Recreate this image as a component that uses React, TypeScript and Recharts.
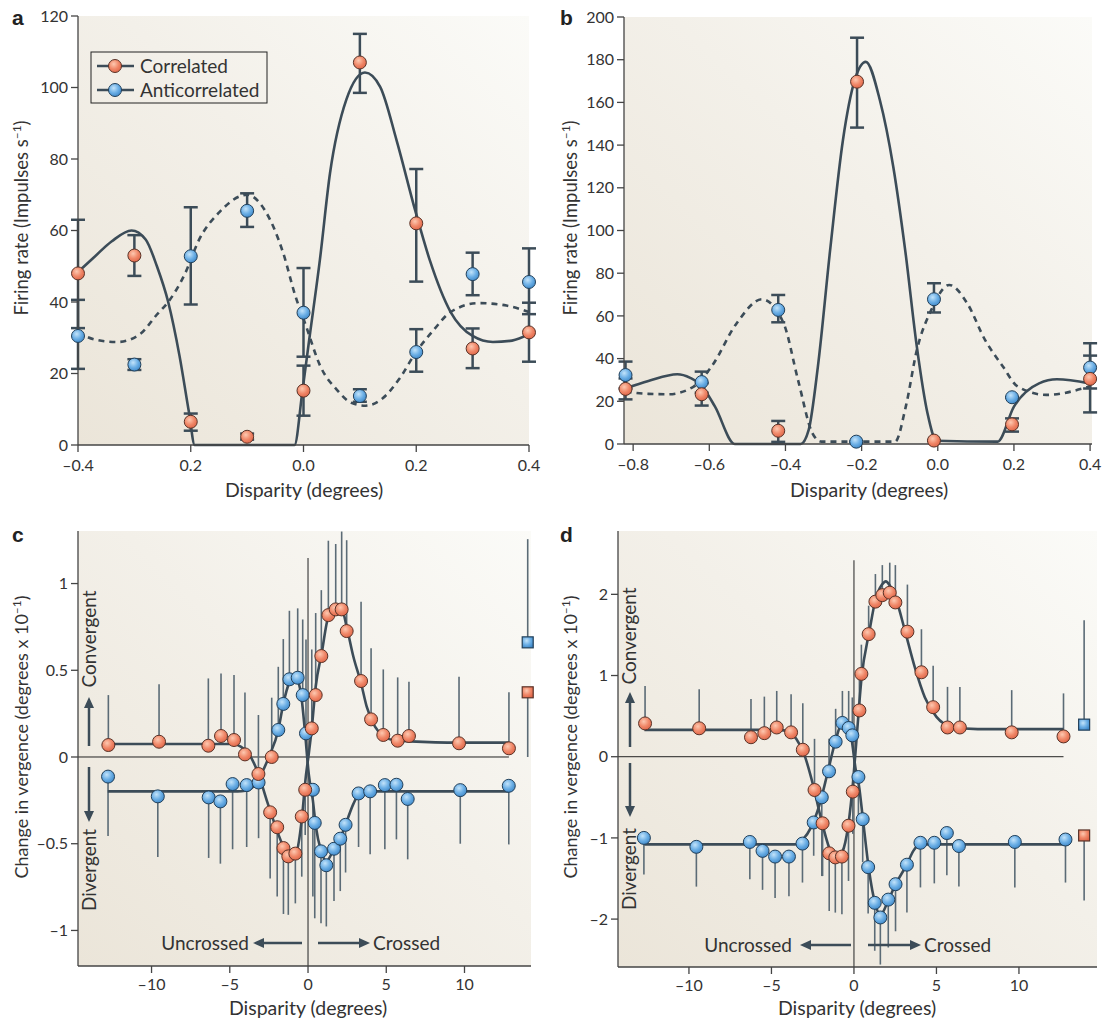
import React from "react";
import {
  ComposedChart,
  Line,
  Scatter,
  XAxis,
  YAxis,
  ErrorBar,
  ReferenceArea,
  ReferenceLine,
} from "recharts";

const FONT = "Lato, 'Open Sans', 'DejaVu Sans', sans-serif";
const INK = "#3c4c58";
const TEXT = "#333";
const AXIS = "#444";

// ---------- panel a ----------
const aXTicks = [-0.4, -0.2, 0, 0.2, 0.4];
const aXLabels = ["–0.4", "0.2", "0.0", "0.2", "0.4"];
const aYTicks = [0, 20, 40, 60, 80, 100, 120];
// [disparity, rate, low, high]
const aCorrelated = [
  [-0.4, 48, 32.7, 63],
  [-0.3, 53, 47.3, 58.7],
  [-0.2, 6.5, 4, 8.8],
  [-0.1, 2.3, 1.5, 3.2],
  [0.0, 15.2, 8.2, 22.2],
  [0.1, 107, 98.5, 115],
  [0.2, 62, 45.7, 77.2],
  [0.3, 27, 21.5, 32.6],
  [0.4, 31.5, 23.3, 39.8],
];
const aAnticorrelated = [
  [-0.4, 30.5, 21.3, 40.6],
  [-0.3, 22.5, 21, 24],
  [-0.2, 52.8, 39.3, 66.5],
  [-0.1, 65.5, 61, 70.4],
  [0.0, 37, 24.7, 49.5],
  [0.1, 13.7, 12.1, 15.6],
  [0.2, 26, 20.5, 32.4],
  [0.3, 47.8, 41.9, 53.8],
  [0.4, 45.6, 36.6, 55],
];
const aCorrFit = [
  [-0.4, 48.4], [-0.373, 52.3], [-0.34, 57], [-0.305, 60], [-0.28, 57.5],
  [-0.26, 50], [-0.24, 40], [-0.22, 25], [-0.203, 9], [-0.193, 0],
  [-0.016, 0], [-0.002, 15], [0.01, 29.3], [0.029, 51.7], [0.047, 76],
  [0.076, 96.6], [0.109, 104.2], [0.136, 100.2], [0.165, 85.3], [0.198, 65.7],
  [0.224, 51.7], [0.261, 37.2], [0.3, 30.5], [0.336, 28.8], [0.37, 29.2], [0.4, 31],
];
const aAntiFit = [
  [-0.4, 31.5], [-0.37, 29.5], [-0.33, 28.8], [-0.29, 31], [-0.26, 36.5],
  [-0.24, 40], [-0.21, 48], [-0.185, 57.5], [-0.15, 65], [-0.1, 70],
  [-0.07, 66], [-0.036, 53.7], [-0.015, 42], [0.004, 33.5], [0.03, 22],
  [0.06, 15.3], [0.085, 11.8], [0.11, 11], [0.14, 13], [0.17, 18.5],
  [0.198, 25.6], [0.23, 32], [0.261, 37.2], [0.311, 39.7], [0.36, 39], [0.4, 37.2],
];

// ---------- panel b ----------
const bXTicks = [-0.8, -0.6, -0.4, -0.2, 0, 0.2, 0.4];
const bXLabels = ["–0.8", "–0.6", "–0.4", "–0.2", "0.0", "0.2", "0.4"];
const bYTicks = [0, 20, 40, 60, 80, 100, 120, 140, 160, 180, 200];
const bCorrelated = [
  [-0.82, 25.8, 20.9, 30.7],
  [-0.62, 23.3, 18, 28.5],
  [-0.419, 6.2, 1, 10.8],
  [-0.212, 169.7, 148.2, 190.3],
  [-0.01, 1.6, 1.6, 1.6],
  [0.195, 9.2, 5.8, 12],
  [0.4, 30.5, 14.8, 41.4],
];
const bAnticorrelated = [
  [-0.82, 32.3, 26, 38.6],
  [-0.62, 29, 24, 33.9],
  [-0.419, 62.8, 57, 69.8],
  [-0.214, 1.1, 1.1, 1.1],
  [-0.01, 67.8, 61.6, 75.3],
  [0.195, 21.9, 21.9, 21.9],
  [0.4, 35.8, 26, 47.2],
];
const bCorrFit = [
  [-0.82, 26.1], [-0.76, 29.5], [-0.684, 32.7], [-0.65, 31], [-0.622, 27.7],
  [-0.585, 17.5], [-0.533, 0], [-0.36, 0], [-0.339, 6.6], [-0.315, 36],
  [-0.282, 92], [-0.249, 142.4], [-0.218, 170.5], [-0.189, 179], [-0.152, 161],
  [-0.117, 130], [-0.085, 90], [-0.055, 45.6], [-0.027, 14.4], [-0.003, 1.5],
  [0.157, 1.1], [0.2, 17.5], [0.266, 28.4], [0.313, 30.3], [0.398, 28.4],
];
const bAntiFit = [
  [-0.82, 24.5], [-0.76, 23.5], [-0.707, 23.3], [-0.641, 26.9], [-0.594, 36.3],
  [-0.528, 56.6], [-0.462, 67.8], [-0.405, 56.6], [-0.367, 30], [-0.329, 5],
  [-0.306, 1.1], [-0.112, 1.1], [-0.084, 17.5], [-0.055, 44], [-0.017, 62.8],
  [0.03, 74.5], [0.077, 66], [0.124, 48.8], [0.171, 36.3], [0.21, 26.9],
  [0.285, 23], [0.398, 26.9],
];

// ---------- panel c ----------
const cdXTicks = [-10, -5, 0, 5, 10];
const cdXLabels = ["–10", "–5", "0", "5", "10"];
const cYTicks = [-1, -0.5, 0, 0.5, 1];
const cYLabels = ["–1", "–0.5", "0", "0.5", "1"];
// [disparity, vergence, end of error line]
const cCorrelated = [
  [-12.76, 0.069, 0.357], [-9.52, 0.088, 0.419], [-6.37, 0.065, 0.453],
  [-5.56, 0.121, 0.482], [-4.73, 0.098, 0.473], [-4.03, 0.015, 0.372],
  [-3.17, -0.098, 0.242], [-2.42, -0.319, -0.7], [-2.32, 0.0, 0.342],
  [-1.97, -0.405, -0.805], [-1.57, -0.525, -0.905], [-1.26, -0.573, -0.91],
  [-0.81, -0.557, -0.844], [-0.4, -0.343, -0.69], [-0.18, -0.189, -0.45],
  [0.24, 0.165, 0.62], [0.49, 0.357, 0.83], [0.85, 0.582, 0.962],
  [1.3, 0.818, 1.247], [1.77, 0.851, 1.228], [2.15, 0.851, 1.3],
  [2.47, 0.726, 1.25], [3.39, 0.438, 0.895], [4.03, 0.217, 0.627],
  [4.81, 0.127, 0.505], [5.73, 0.094, 0.459], [6.45, 0.121, 0.434],
  [9.65, 0.079, 0.463], [12.84, 0.05, 0.373],
];
const cAnticorrelated = [
  [-12.78, -0.113, -0.456], [-9.6, -0.227, -0.576], [-6.35, -0.233, -0.582],
  [-5.6, -0.256, -0.615], [-4.82, -0.156, -0.532], [-3.92, -0.162, -0.519],
  [-3.16, -0.147, -0.468], [-1.9, 0.156, 0.52], [-1.58, 0.306, 0.68],
  [-1.19, 0.448, 0.843], [-0.66, 0.457, 0.857], [-0.34, 0.357, 0.793],
  [-0.13, 0.136, 0.678], [0.31, -0.189, -0.805], [0.43, -0.38, -0.93],
  [0.83, -0.544, -0.958], [1.17, -0.624, -0.977], [1.66, -0.529, -0.83],
  [2.06, -0.471, -0.773], [2.4, -0.391, -0.666], [3.23, -0.21, -0.519],
  [3.97, -0.198, -0.561], [4.91, -0.162, -0.532], [5.65, -0.16, -0.475],
  [6.37, -0.242, -0.59], [9.73, -0.191, -0.5], [12.83, -0.166, -0.504],
];
const cCorrSquare = [[14.04, 0.373, 0.0]];
const cAntiSquare = [[14.04, 0.661, 1.256]];
const cCorrFit = [
  [-12.8, 0.075], [-9.5, 0.075], [-6.4, 0.075], [-4.8, 0.075], [-4.3, 0.06],
  [-3.8, 0.02], [-3.2, -0.09], [-2.6, -0.26], [-2.0, -0.42], [-1.5, -0.53],
  [-1.1, -0.57], [-0.75, -0.55], [-0.4, -0.36], [-0.15, -0.12], [0.05, 0.02],
  [0.24, 0.165], [0.49, 0.405], [0.87, 0.597], [1.3, 0.809], [1.83, 0.866],
  [2.15, 0.857], [2.47, 0.751], [2.9, 0.578], [3.39, 0.425], [3.75, 0.29],
  [4.28, 0.175], [4.81, 0.121], [5.67, 0.094], [6.52, 0.09], [9.65, 0.083], [12.84, 0.083],
];
const cAntiFit = [
  [-12.8, -0.198], [-9.6, -0.198], [-6.4, -0.198], [-4.5, -0.198], [-4.0, -0.195],
  [-3.5, -0.17], [-3.0, -0.1], [-2.5, 0.0], [-1.9, 0.156], [-1.58, 0.306],
  [-1.19, 0.43], [-0.9, 0.46], [-0.66, 0.44], [-0.4, 0.33], [-0.2, 0.15],
  [0.05, -0.1], [0.31, -0.25], [0.5, -0.4], [0.83, -0.54], [1.17, -0.6],
  [1.66, -0.53], [2.06, -0.47], [2.4, -0.39], [2.9, -0.27], [3.3, -0.21],
  [4.0, -0.198], [12.83, -0.198],
];

// ---------- panel d ----------
const dYTicks = [-2, -1, 0, 1, 2];
const dYLabels = ["–2", "–1", "0", "1", "2"];
const dCorrelated = [
  [-12.66, 0.41, 0.87], [-9.38, 0.35, 0.83], [-6.24, 0.24, 0.71],
  [-5.43, 0.29, 0.74], [-4.68, 0.36, 0.81], [-3.81, 0.3, 0.77],
  [-3.1, 0.086, 0.66], [-2.39, -0.41, 0.22], [-1.9, -0.82, -1.47],
  [-1.5, -1.19, -1.9], [-1.13, -1.24, -1.92], [-0.73, -1.23, -1.94],
  [-0.33, -0.85, -1.53], [-0.07, -0.43, -0.95], [0.33, 0.57, 1.05],
  [0.45, 1.02, 1.38], [0.89, 1.51, 1.86], [1.3, 1.91, 2.25],
  [1.72, 1.99, 2.36], [2.17, 2.02, 2.39], [2.51, 1.9, 2.36],
  [3.24, 1.54, 2.12], [4.09, 1.04, 1.57], [4.8, 0.61, 1.12],
  [5.67, 0.36, 0.86], [6.42, 0.36, 0.86], [9.56, 0.3, 0.82], [12.7, 0.25, 0.78],
];
const dAnticorrelated = [
  [-12.73, -1.0, -1.45], [-9.55, -1.11, -1.6], [-6.31, -1.05, -1.51],
  [-5.54, -1.16, -1.64], [-4.78, -1.23, -1.74], [-3.94, -1.23, -1.72],
  [-3.12, -1.07, -1.55], [-2.44, -0.81, -1.22], [-1.95, -0.5, -1.47],
  [-1.51, -0.18, 0.22], [-1.11, 0.185, 0.59], [-0.7, 0.416, 0.81],
  [-0.32, 0.354, 0.81], [-0.1, 0.263, 0.73], [0.27, -0.25, -0.8],
  [0.53, -0.77, -1.3], [0.86, -1.36, -1.93], [1.26, -1.8, -2.39],
  [1.6, -1.98, -2.56], [2.08, -1.76, -2.35], [2.52, -1.57, -2.15],
  [3.21, -1.33, -1.92], [4.03, -1.06, -1.61], [4.87, -1.06, -1.56],
  [5.63, -0.94, -1.46], [6.36, -1.1, -1.6], [9.75, -1.05, -1.61], [12.82, -1.02, -1.55],
];
const dCorrSquare = [[13.95, -0.97, -1.77]];
const dAntiSquare = [[13.95, 0.395, 1.68]];
const dCorrFit = [
  [-12.7, 0.33], [-9.4, 0.33], [-6.2, 0.33], [-4.5, 0.33], [-4.0, 0.31],
  [-3.5, 0.22], [-3.0, 0.02], [-2.5, -0.33], [-2.0, -0.76], [-1.5, -1.12],
  [-1.1, -1.25], [-0.7, -1.17], [-0.35, -0.85], [-0.05, -0.3], [0.15, 0.2],
  [0.45, 0.95], [0.95, 1.56], [1.3, 1.93], [1.7, 2.12], [1.93, 2.16],
  [2.2, 2.1], [2.57, 1.93], [3.08, 1.56], [3.69, 1.1], [4.3, 0.73],
  [5.0, 0.49], [5.92, 0.37], [7.5, 0.34], [9.6, 0.34], [12.7, 0.34],
];
const dAntiFit = [
  [-12.7, -1.08], [-9.5, -1.08], [-6.3, -1.08], [-3.6, -1.08], [-3.1, -1.02],
  [-2.6, -0.87], [-2.1, -0.6], [-1.6, -0.2], [-1.15, 0.17], [-0.75, 0.39],
  [-0.45, 0.38], [-0.15, 0.22], [0.1, -0.15], [0.3, -0.35], [0.55, -0.78],
  [0.9, -1.38], [1.3, -1.82], [1.6, -1.95], [2.1, -1.76], [2.5, -1.58],
  [3.2, -1.33], [3.6, -1.16], [4.0, -1.08], [6.4, -1.08], [9.8, -1.08], [12.8, -1.08],
];

// ---------- helpers ----------
const capped = (rows: number[][]) =>
  rows.map(([x, y, lo, hi]) => ({ x, y, err: [y - lo, hi - y] }));
const oneSided = (rows: number[][]) =>
  rows.map(([x, y, tip]) => ({ x, y, err: tip >= y ? [0, tip - y] : [y - tip, 0] }));
const curve = (rows: number[][]) => rows.map(([x, y]) => ({ x, y }));

const circle = (grad: string, stroke: string) => (p: any) =>
  p.cx == null ? null : (
    <circle cx={p.cx} cy={p.cy} r={6.5} fill={`url(#${grad})`} stroke={stroke} strokeWidth={1} />
  );
const square = (grad: string, stroke: string) => (p: any) =>
  p.cx == null ? null : (
    <rect x={p.cx - 5.5} y={p.cy - 5.5} width={11} height={11} fill={`url(#${grad})`} stroke={stroke} strokeWidth={1.2} />
  );

function Defs({ id }: { id: string }) {
  return (
    <defs>
      <linearGradient id={`bg-${id}`} x1="0" y1="1" x2="1" y2="0">
        <stop offset="0%" stopColor="#ebe5d9" />
        <stop offset="55%" stopColor="#f3f0e9" />
        <stop offset="100%" stopColor="#fbfbf8" />
      </linearGradient>
      <radialGradient id={`or-${id}`} cx="40%" cy="35%" r="70%">
        <stop offset="0%" stopColor="#fdc8b0" />
        <stop offset="55%" stopColor="#f08768" />
        <stop offset="100%" stopColor="#dd6447" />
      </radialGradient>
      <radialGradient id={`bl-${id}`} cx="40%" cy="35%" r="70%">
        <stop offset="0%" stopColor="#c2e3fa" />
        <stop offset="55%" stopColor="#6aaee5" />
        <stop offset="100%" stopColor="#3d86c6" />
      </radialGradient>
    </defs>
  );
}

interface PanelProps {
  id: string;
  left: number;
  top: number;
  width: number;
  height: number;
  margin: { top: number; right: number; bottom: number; left: number };
  yWidth: number;
  xHeight: number;
  xMargin: number;
  xDomain: [number, number];
  yDomain: [number, number];
  xTicks: number[];
  xLabels: string[];
  yTicks: number[];
  yLabels?: string[];
  children?: React.ReactNode;
}

function Panel(p: PanelProps) {
  const tick = { fontSize: 16, fill: TEXT, fontFamily: FONT };
  return (
    <div style={{ position: "absolute", left: p.left, top: p.top }}>
      <ComposedChart width={p.width} height={p.height} margin={p.margin}>
        <Defs id={p.id} />
        <XAxis
          dataKey="x"
          type="number"
          domain={p.xDomain}
          ticks={p.xTicks}
          interval={0}
          tickFormatter={(_v: number, i: number) => p.xLabels[i]}
          height={p.xHeight}
          tick={tick}
          tickSize={7}
          tickMargin={p.xMargin}
          axisLine={{ stroke: AXIS, strokeWidth: 1.3 }}
          tickLine={{ stroke: AXIS, strokeWidth: 1.3 }}
        />
        <YAxis
          type="number"
          domain={p.yDomain}
          ticks={p.yTicks}
          interval={0}
          tickFormatter={(v: number, i: number) => (p.yLabels ? p.yLabels[i] : String(v))}
          width={p.yWidth}
          tick={tick}
          tickSize={7}
          tickMargin={3}
          axisLine={{ stroke: AXIS, strokeWidth: 1.3 }}
          tickLine={{ stroke: AXIS, strokeWidth: 1.3 }}
        />
        <ReferenceArea
          x1={p.xDomain[0]}
          x2={p.xDomain[1]}
          y1={p.yDomain[0]}
          y2={p.yDomain[1]}
          fill={`url(#bg-${p.id})`}
          fillOpacity={1}
          stroke="none"
        />
        {p.children}
      </ComposedChart>
    </div>
  );
}

function Arrow({ x1, y1, x2, y2 }: { x1: number; y1: number; x2: number; y2: number }) {
  const dx = x2 - x1;
  const dy = y2 - y1;
  const len = Math.hypot(dx, dy);
  const ux = dx / len;
  const uy = dy / len;
  const hl = 11;
  const hw = 5;
  const bx = x2 - ux * hl;
  const by = y2 - uy * hl;
  return (
    <g>
      <line x1={x1} y1={y1} x2={bx + ux * 2} y2={by + uy * 2} stroke={INK} strokeWidth={2.5} />
      <polygon
        points={`${x2},${y2} ${bx - uy * hw},${by + ux * hw} ${bx + uy * hw},${by - ux * hw}`}
        fill={INK}
      />
    </g>
  );
}

function Overlay() {
  const t = { fontFamily: FONT, fill: TEXT };
  const letter = { fontFamily: "Arial, 'Liberation Sans', sans-serif", fontWeight: 700, fontSize: 21, fill: "#222" };
  return (
    <svg
      width={1115}
      height={1021}
      style={{ position: "absolute", left: 0, top: 0, pointerEvents: "none" }}
    >
      <text x={12} y={25} {...letter}>a</text>
      <text x={560} y={25} {...letter}>b</text>
      <text x={12} y={542} {...letter}>c</text>
      <text x={560} y={542} {...letter}>d</text>

      <text x={304} y={497} textAnchor="middle" fontSize={19.5} {...t}>Disparity (degrees)</text>
      <text x={869} y={497} textAnchor="middle" fontSize={19.5} {...t}>Disparity (degrees)</text>
      <text x={308} y={1015} textAnchor="middle" fontSize={19.5} {...t}>Disparity (degrees)</text>
      <text x={857} y={1015} textAnchor="middle" fontSize={19.5} {...t}>Disparity (degrees)</text>

      <text transform="translate(28,218) rotate(-90)" textAnchor="middle" fontSize={18.5} {...t}>
        Firing rate (Impulses s<tspan dy={-7} fontSize={12}>–1</tspan><tspan dy={7}>)</tspan>
      </text>
      <text transform="translate(577,218) rotate(-90)" textAnchor="middle" fontSize={18.5} {...t}>
        Firing rate (Impulses s<tspan dy={-7} fontSize={12}>–1</tspan><tspan dy={7}>)</tspan>
      </text>
      <text transform="translate(28,737) rotate(-90)" textAnchor="middle" fontSize={18} {...t}>
        Change in vergence (degrees x 10<tspan dy={-7} fontSize={12}>–1</tspan><tspan dy={7}>)</tspan>
      </text>
      <text transform="translate(577,737) rotate(-90)" textAnchor="middle" fontSize={18} {...t}>
        Change in vergence (degrees x 10<tspan dy={-7} fontSize={12}>–1</tspan><tspan dy={7}>)</tspan>
      </text>

      {/* legend of panel a */}
      <rect x={91} y={52} width={176} height={51} fill="none" stroke="#222" strokeWidth={1} />
      <line x1={97} y1={66} x2={134} y2={66} stroke={INK} strokeWidth={2.5} />
      <circle cx={115} cy={66} r={6.5} fill="url(#or-a)" stroke="#5a3328" strokeWidth={1} />
      <text x={140} y={72.5} fontSize={19} {...t}>Correlated</text>
      <line x1={97} y1={90} x2={134} y2={90} stroke={INK} strokeWidth={2.5} />
      <circle cx={115} cy={90} r={6.5} fill="url(#bl-a)" stroke="#22405a" strokeWidth={1} />
      <text x={140} y={96.5} fontSize={19} {...t}>Anticorrelated</text>

      {/* panel c annotations */}
      <text transform="translate(96,639) rotate(-90)" textAnchor="middle" fontSize={19} {...t}>Convergent</text>
      <Arrow x1={89} y1={746} x2={89} y2={697} />
      <text transform="translate(96,870) rotate(-90)" textAnchor="middle" fontSize={19} {...t}>Divergent</text>
      <Arrow x1={89} y1={767} x2={89} y2={822} />
      <text x={249} y={950} textAnchor="end" fontSize={19} {...t}>Uncrossed</text>
      <Arrow x1={302} y1={943} x2={253} y2={943} />
      <Arrow x1={318} y1={943} x2={370} y2={943} />
      <text x={373} y={950} fontSize={19} {...t}>Crossed</text>

      {/* panel d annotations */}
      <text transform="translate(636,636) rotate(-90)" textAnchor="middle" fontSize={19} {...t}>Convergent</text>
      <Arrow x1={630} y1={747} x2={630} y2={692} />
      <text transform="translate(636,869) rotate(-90)" textAnchor="middle" fontSize={19} {...t}>Divergent</text>
      <Arrow x1={630} y1={763} x2={630} y2={817} />
      <text x={792} y={952} textAnchor="end" fontSize={19} {...t}>Uncrossed</text>
      <Arrow x1={851} y1={945} x2={800} y2={945} />
      <Arrow x1={868} y1={945} x2={921} y2={945} />
      <text x={924} y={952} fontSize={19} {...t}>Crossed</text>
    </svg>
  );
}

const capBar = (
  <ErrorBar dataKey="err" direction="y" width={7} stroke={INK} strokeWidth={2.5} />
);
const thinBar = (
  <ErrorBar dataKey="err" direction="y" width={0} stroke="#5b6b76" strokeWidth={1.6} />
);

function fit(key: string, rows: number[][], dashed: boolean) {
  return (
    <Line
      key={key}
      data={curve(rows)}
      dataKey="y"
      type="monotone"
      stroke={INK}
      strokeWidth={2.6}
      strokeDasharray={dashed ? "6 5" : undefined}
      dot={false}
      activeDot={false}
      isAnimationActive={false}
    />
  );
}

export default function App() {
  return (
    <div style={{ position: "absolute", left: 0, top: 0, width: 1115, height: 1021, background: "#fff" }}>
      <Panel
        id="a" left={0} top={0} width={545} height={505}
        margin={{ top: 16, right: 16, bottom: 0, left: 28 }}
        yWidth={50} xHeight={60} xMargin={8}
        xDomain={[-0.4, 0.4]} yDomain={[0, 120]}
        xTicks={aXTicks} xLabels={aXLabels} yTicks={aYTicks}
      >
        {fit("aCf", aCorrFit, false)}
        {fit("aAf", aAntiFit, true)}
        <Scatter data={capped(aAnticorrelated)} dataKey="y" shape={circle("bl-a", "#22405a")} isAnimationActive={false}>
          {capBar}
        </Scatter>
        <Scatter data={capped(aCorrelated)} dataKey="y" shape={circle("or-a", "#5a3328")} isAnimationActive={false}>
          {capBar}
        </Scatter>
      </Panel>

      <Panel
        id="b" left={560} top={0} width={545} height={505}
        margin={{ top: 17, right: 13, bottom: 0, left: 19 }}
        yWidth={45} xHeight={61} xMargin={8}
        xDomain={[-0.824, 0.405]} yDomain={[0, 200]}
        xTicks={bXTicks} xLabels={bXLabels} yTicks={bYTicks}
      >
        {fit("bCf", bCorrFit, false)}
        {fit("bAf", bAntiFit, true)}
        <Scatter data={capped(bAnticorrelated)} dataKey="y" shape={circle("bl-b", "#22405a")} isAnimationActive={false}>
          {capBar}
        </Scatter>
        <Scatter data={capped(bCorrelated)} dataKey="y" shape={circle("or-b", "#5a3328")} isAnimationActive={false}>
          {capBar}
        </Scatter>
      </Panel>

      <Panel
        id="c" left={0} top={515} width={545} height={505}
        margin={{ top: 16, right: 14, bottom: 0, left: 28 }}
        yWidth={50} xHeight={54} xMargin={6}
        xDomain={[-14.7, 14.25]} yDomain={[-1.205, 1.303]}
        xTicks={cdXTicks} xLabels={cdXLabels} yTicks={cYTicks} yLabels={cYLabels}
      >
        <ReferenceLine segment={[{ x: -14.7, y: 0 }, { x: 12.84, y: 0 }]} stroke="#222" strokeWidth={1} />
        <ReferenceLine segment={[{ x: 0, y: -1.205 }, { x: 0, y: 1.147 }]} stroke="#444" strokeWidth={1.2} />
        <Scatter data={oneSided(cAnticorrelated)} dataKey="y" shape={() => null} isAnimationActive={false}>
          {thinBar}
        </Scatter>
        <Scatter data={oneSided(cCorrelated)} dataKey="y" shape={() => null} isAnimationActive={false}>
          {thinBar}
        </Scatter>
        <Scatter data={oneSided([...cCorrSquare, ...cAntiSquare])} dataKey="y" shape={() => null} isAnimationActive={false}>
          {thinBar}
        </Scatter>
        {fit("cCf", cCorrFit, false)}
        {fit("cAf", cAntiFit, false)}
        <Scatter data={oneSided(cAnticorrelated)} dataKey="y" shape={circle("bl-c", "#22405a")} isAnimationActive={false} />
        <Scatter data={oneSided(cCorrelated)} dataKey="y" shape={circle("or-c", "#5a3328")} isAnimationActive={false} />
        <Scatter data={oneSided(cAntiSquare)} dataKey="y" shape={square("bl-c", "#22405a")} isAnimationActive={false} />
        <Scatter data={oneSided(cCorrSquare)} dataKey="y" shape={square("or-c", "#5a3328")} isAnimationActive={false} />
      </Panel>

      <Panel
        id="d" left={560} top={515} width={550} height={505}
        margin={{ top: 16, right: 13, bottom: 0, left: 13 }}
        yWidth={45} xHeight={53} xMargin={6}
        xDomain={[-14.3, 14.73]} yDomain={[-2.59, 2.78]}
        xTicks={cdXTicks} xLabels={cdXLabels} yTicks={dYTicks} yLabels={dYLabels}
      >
        <ReferenceLine segment={[{ x: -14.3, y: 0 }, { x: 12.7, y: 0 }]} stroke="#222" strokeWidth={1} />
        <ReferenceLine segment={[{ x: 0, y: -2.59 }, { x: 0, y: 2.42 }]} stroke="#444" strokeWidth={1.2} />
        <Scatter data={oneSided(dAnticorrelated)} dataKey="y" shape={() => null} isAnimationActive={false}>
          {thinBar}
        </Scatter>
        <Scatter data={oneSided(dCorrelated)} dataKey="y" shape={() => null} isAnimationActive={false}>
          {thinBar}
        </Scatter>
        <Scatter data={oneSided([...dCorrSquare, ...dAntiSquare])} dataKey="y" shape={() => null} isAnimationActive={false}>
          {thinBar}
        </Scatter>
        {fit("dCf", dCorrFit, false)}
        {fit("dAf", dAntiFit, false)}
        <Scatter data={oneSided(dAnticorrelated)} dataKey="y" shape={circle("bl-d", "#22405a")} isAnimationActive={false} />
        <Scatter data={oneSided(dCorrelated)} dataKey="y" shape={circle("or-d", "#5a3328")} isAnimationActive={false} />
        <Scatter data={oneSided(dAntiSquare)} dataKey="y" shape={square("bl-d", "#22405a")} isAnimationActive={false} />
        <Scatter data={oneSided(dCorrSquare)} dataKey="y" shape={square("or-d", "#5a3328")} isAnimationActive={false} />
      </Panel>

      <Overlay />
    </div>
  );
}
